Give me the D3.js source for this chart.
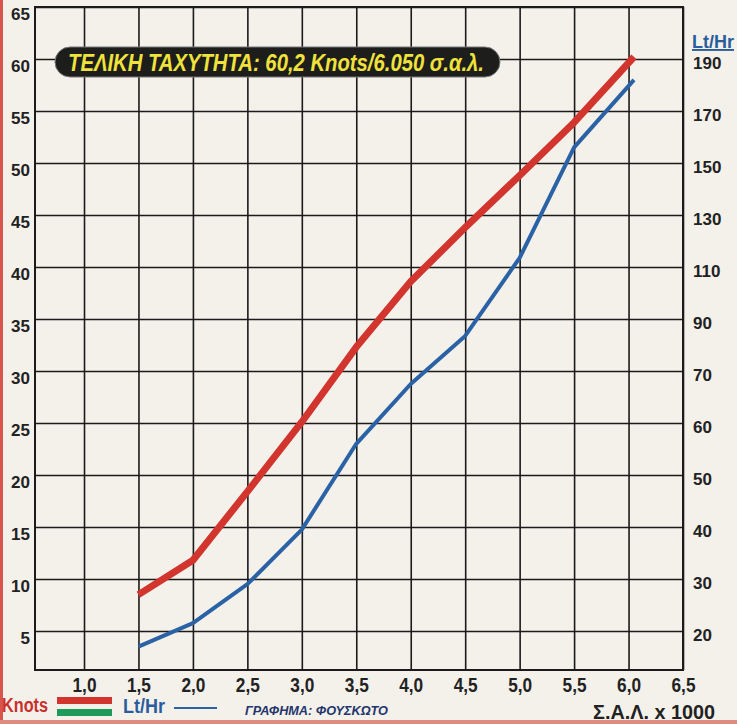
<!DOCTYPE html>
<head>
  <meta charset="utf-8">
  <script src="https://d3js.org/d3.v7.min.js"></script>
  <style>
    body { margin: 0; background: #f4f1eb; }
    .grid line { stroke: #1b1b1b; stroke-width: 1.6px; }
    .grid text { font-family: "Liberation Sans", Arial, sans-serif; font-weight: bold; font-size: 16px; fill: #222; }
    .xgrid text { font-size: 20px; }
    .narrow { font-family: "Liberation Sans Narrow", "Liberation Sans", sans-serif; font-weight: bold; }
  </style>
</head>

<body>
  <script>
    var width = 737;
    var height = 724;

    // rpm x 1000
    var xTicks = [1.0, 1.5, 2.0, 2.5, 3.0, 3.5, 4.0, 4.5, 5.0, 5.5, 6.0, 6.5];
    var knotTicks = [5, 10, 15, 20, 25, 30, 35, 40, 45, 50, 55, 60, 65];
    var lthrTicks = [20, 30, 40, 50, 60, 70, 90, 110, 130, 150, 170, 190];

    var rpm = [1.5, 2.0, 2.5, 3.0, 3.5, 4.0, 4.5, 5.0, 5.5, 6.05];
    var knots = [8.5, 11.8, 18.4, 25.1, 32.3, 38.6, 43.8, 48.8, 53.9, 60.2];
    var lthr = [17, 21.5, 29, 39.5, 56, 67.5, 83.5, 113.5, 156, 182];

    var plotL = 35, plotR = 683, plotT = 7, plotB = 670;

    var svg = d3.select("body").append("svg")
        .attr("width", width)
        .attr("height", height);

    svg.append("rect").attr("width", width).attr("height", height).attr("fill", "#f4f1eb");
    // page edges of the scan
    svg.append("rect").attr("x", 0).attr("y", 0).attr("width", 3).attr("height", height).attr("fill", "#d9544c");
    svg.append("rect").attr("x", 0).attr("y", 720).attr("width", width).attr("height", 4).attr("fill", "#e08a80");

    var x = d3.scaleLinear().domain([0.55, 6.5]).range([plotL, plotR]);
    var y = d3.scaleLinear().domain([1.25, 65]).range([plotB, plotT]);
    // right axis is not linear: 10 per square up to 70, 20 per square above
    var yR = d3.scaleLinear().domain([20, 70, 190]).range([y(5), y(30), y(60)]);

    var comma = function (d) { return d3.format(".1f")(d).replace(".", ","); };

    // horizontal grid + left labels
    var gy = svg.append("g").attr("class", "grid")
        .attr("transform", "translate(" + plotL + ",0)")
        .call(d3.axisLeft(y).tickValues(knotTicks).tickSize(-(plotR - plotL)).tickPadding(5));
    gy.select(".domain").remove();
    gy.selectAll("text").attr("dy", "0.85em").attr("y", -2).style("font-size", "17px");

    // vertical grid + bottom labels
    var gx = svg.append("g").attr("class", "grid xgrid")
        .attr("transform", "translate(0," + plotB + ")")
        .call(d3.axisBottom(x).tickValues(xTicks).tickSize(-(plotB - plotT)).tickPadding(8).tickFormat(comma));
    gx.select(".domain").remove();
    gx.selectAll("text").attr("textLength", 24).attr("lengthAdjust", "spacingAndGlyphs");

    // right labels
    var gr = svg.append("g").attr("class", "grid")
        .attr("transform", "translate(" + plotR + ",0)")
        .call(d3.axisRight(yR).tickValues(lthrTicks).tickSize(0).tickPadding(10));
    gr.select(".domain").remove();
    gr.selectAll("text").attr("dy", "0.55em").style("font-size", "17px");

    // frame
    svg.append("rect")
        .attr("x", plotL).attr("y", plotT)
        .attr("width", plotR - plotL).attr("height", plotB - plotT)
        .attr("fill", "none").attr("stroke", "#1b1b1b").attr("stroke-width", 2);

    svg.append("text").attr("class", "narrow")
        .attr("x", 692).attr("y", 48)
        .attr("fill", "#2a5d9c").attr("font-size", 19)
        .attr("text-decoration", "underline")
        .attr("textLength", 42).attr("lengthAdjust", "spacingAndGlyphs")
        .text("Lt/Hr");

    // lines
    var knotLine = d3.line()
        .x(function (d, i) { return x(rpm[i]); })
        .y(function (d) { return y(d); });
    var lthrLine = d3.line()
        .x(function (d, i) { return x(rpm[i]); })
        .y(function (d) { return yR(d); });

    svg.append("path").datum(lthr)
        .attr("d", lthrLine)
        .attr("fill", "none").attr("stroke", "#2b62a6").attr("stroke-width", 4)
        .attr("stroke-linejoin", "round");
    svg.append("path").datum(knots)
        .attr("d", knotLine)
        .attr("fill", "none").attr("stroke", "#d2342e").attr("stroke-width", 7)
        .attr("stroke-linejoin", "round");

    // title pill
    svg.append("rect")
        .attr("x", 55).attr("y", 47).attr("width", 445).attr("height", 30).attr("rx", 15)
        .attr("fill", "#1d1d1b").attr("stroke", "#777").attr("stroke-width", 1);
    svg.append("text").attr("class", "narrow")
        .attr("x", 68).attr("y", 71)
        .attr("font-size", 24).attr("font-style", "italic")
        .attr("fill", "#f0e23c")
        .attr("textLength", 416).attr("lengthAdjust", "spacingAndGlyphs")
        .text("ΤΕΛΙΚΗ ΤΑΧΥΤΗΤΑ: 60,2 Knots/6.050 σ.α.λ.");

    // legend
    svg.append("text").attr("class", "narrow")
        .attr("x", 2).attr("y", 712).attr("font-size", 20).attr("fill", "#c9302b")
        .attr("textLength", 46).attr("lengthAdjust", "spacingAndGlyphs")
        .text("Knots");
    svg.append("rect").attr("x", 57).attr("y", 697).attr("width", 55).attr("height", 7).attr("fill", "#d2342e");
    svg.append("rect").attr("x", 57).attr("y", 709).attr("width", 55).attr("height", 7).attr("fill", "#1e9a5a");
    svg.append("text").attr("class", "narrow")
        .attr("x", 123).attr("y", 713).attr("font-size", 20).attr("fill", "#2a5d9c")
        .attr("textLength", 42).attr("lengthAdjust", "spacingAndGlyphs")
        .text("Lt/Hr");
    svg.append("line").attr("x1", 174).attr("x2", 217).attr("y1", 708).attr("y2", 708)
        .attr("stroke", "#2b62a6").attr("stroke-width", 2);
    svg.append("text")
        .attr("x", 245).attr("y", 715)
        .attr("font-family", "Liberation Sans, Arial, sans-serif")
        .attr("font-size", 12).attr("font-weight", "bold").attr("font-style", "italic")
        .attr("fill", "#23356b")
        .attr("textLength", 143).attr("lengthAdjust", "spacingAndGlyphs")
        .text("ΓΡΑΦΗΜΑ: ΦΟΥΣΚΩΤΟ");
    svg.append("text").attr("class", "narrow")
        .attr("x", 593).attr("y", 719)
        .attr("font-size", 20).attr("fill", "#222")
        .attr("textLength", 122).attr("lengthAdjust", "spacingAndGlyphs")
        .text("Σ.Α.Λ. x 1000");
  </script>
</body>
